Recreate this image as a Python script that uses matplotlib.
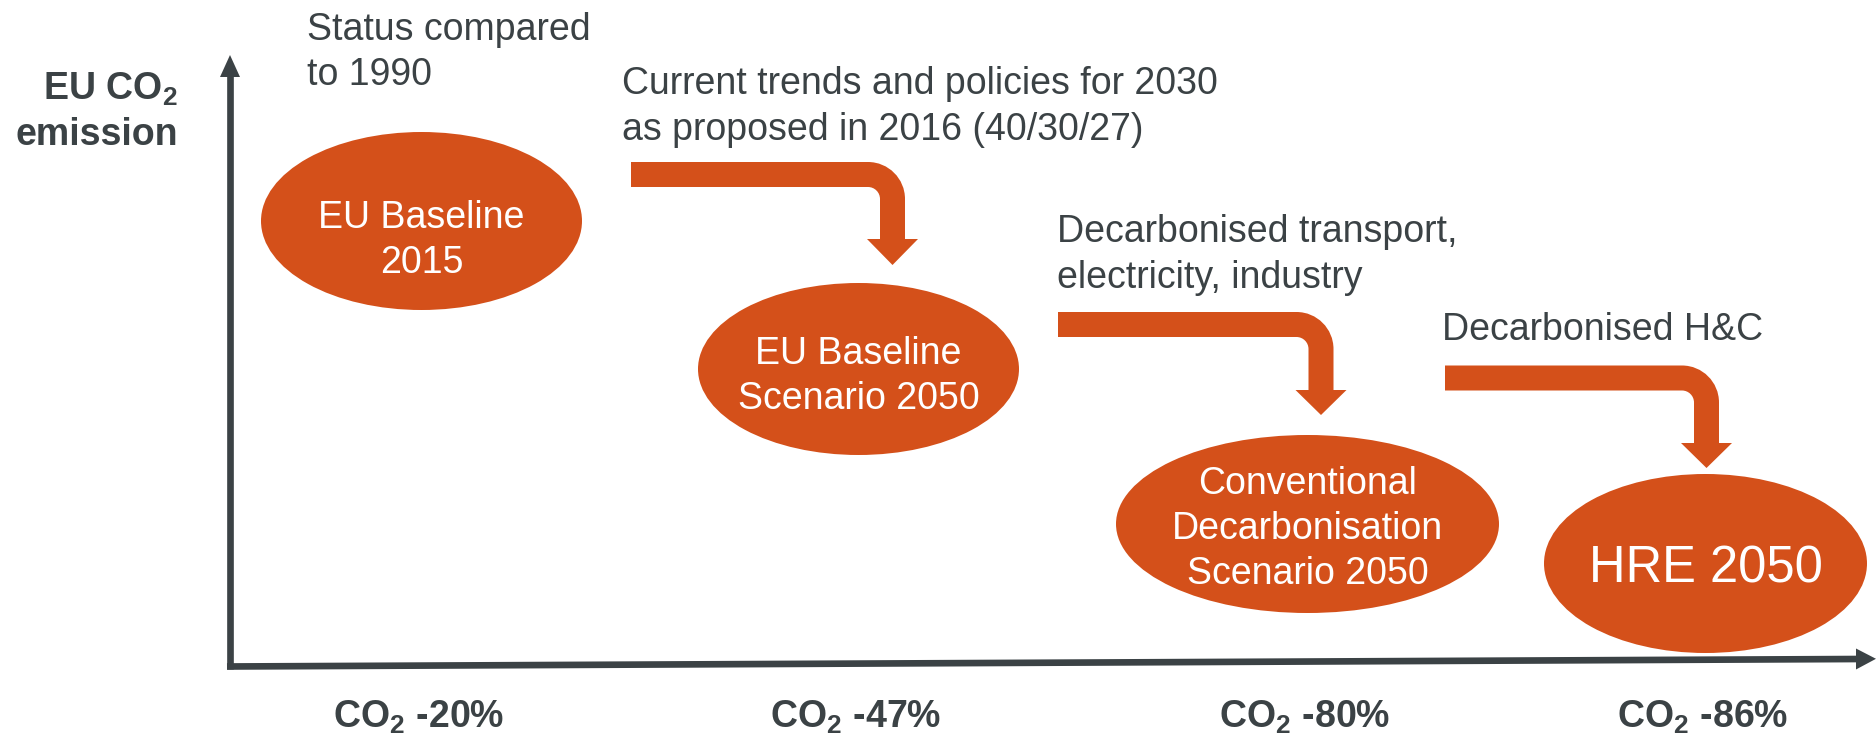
import numpy as np
import matplotlib
matplotlib.use("Agg")
import matplotlib.pyplot as plt
from matplotlib.patches import Ellipse, Polygon, PathPatch
from matplotlib.path import Path

plt.rcParams["font.family"] = ["Liberation Sans", "DejaVu Sans"]
plt.rcParams["mathtext.fontset"] = "custom"
plt.rcParams["mathtext.rm"] = "Liberation Sans"
plt.rcParams["mathtext.bf"] = "Liberation Sans:bold"

# ---- content -------------------------------------------------------------
scenarios = ["EU Baseline\n2015",
             "EU Baseline\nScenario 2050",
             "Conventional\nDecarbonisation\nScenario 2050",
             "HRE 2050"]
co2_change = [-20, -47, -80, -86]          # % CO2 compared to 1990
transitions = ["Current trends and policies for 2030\nas proposed in 2016 (40/30/27)",
               "Decarbonised transport,\nelectricity, industry",
               "Decarbonised H&C"]
status_note = "Status compared\nto 1990"
y_label = ["EU CO$_\\mathbf{2}$", "emission"]

# ---- layout (pixel space) ------------------------------------------------
ORANGE = "#D4501A"
DARK = "#3B4245"
W, H = 1876, 737

ell_cx = [421.5, 858.5, 1307.5, 1705.5]
ell_cy = [221, 369, 524, 563.5]
ell_w = [321, 321, 383, 323]
ell_h = [178, 172, 178, 179]
txt_cy = [237.5, 373.5, 525.5, 564.5]
txt_size = [27, 27, 27, 36.5]

# curved arrows: bar start x, bar centre y, vertical x, head base y, tip y
arr_x0 = [631, 1058, 1445]
arr_yb = [174.5, 324.5, 378]
arr_xv = [892.5, 1321, 1706.5]
arr_yh = [239, 390, 443]
arr_tip = [265, 415, 468]

trans_x = [622, 1057, 1442]
trans_base = [94, 242, 340]

fig = plt.figure(figsize=(W / 100, H / 100), dpi=100)
ax = fig.add_axes([0, 0, 1, 1])
ax.set_xlim(0, W)
ax.set_ylim(H, 0)
ax.axis("off")

# ---- axes arrows ---------------------------------------------------------
lw = 4.8
ax.plot([230, 230], [669, 74], color=DARK, lw=lw, solid_capstyle="butt")
ax.add_patch(Polygon([[220, 77], [240, 77], [230, 55]], closed=True,
                     color=DARK, lw=0))
ax.plot([227, 1860], [666.5, 659], color=DARK, lw=lw, solid_capstyle="butt")
ax.add_patch(Polygon([[1856, 648.5], [1856, 669.5], [1876, 658.8]], closed=True,
                     color=DARK, lw=0))

# ---- transition arrows ---------------------------------------------------
def bent_arrow(x0, yb, xv, yh, tip, t=25.0, ro=37.0, ri=12.0, hw=25.5):
    h = t / 2
    k = 0.5523
    verts = [(x0, yb - h),
             (xv + h - ro, yb - h),
             (xv + h - ro + k * ro, yb - h), (xv + h, yb - h + ro - k * ro), (xv + h, yb - h + ro),
             (xv + h, yh), (xv + hw, yh), (xv, tip), (xv - hw, yh), (xv - h, yh),
             (xv - h, yb + h + ri),
             (xv - h, yb + h + ri - k * ri), (xv - h - ri + k * ri, yb + h), (xv - h - ri, yb + h),
             (x0, yb + h), (x0, yb - h)]
    codes = [Path.MOVETO, Path.LINETO,
             Path.CURVE4, Path.CURVE4, Path.CURVE4,
             Path.LINETO, Path.LINETO, Path.LINETO, Path.LINETO, Path.LINETO,
             Path.LINETO,
             Path.CURVE4, Path.CURVE4, Path.CURVE4,
             Path.LINETO, Path.CLOSEPOLY]
    return PathPatch(Path(verts, codes), facecolor=ORANGE, edgecolor="none")

for i in range(len(transitions)):
    ax.add_patch(bent_arrow(arr_x0[i], arr_yb[i], arr_xv[i], arr_yh[i], arr_tip[i]))

# ---- scenario ellipses ---------------------------------------------------
for i, name in enumerate(scenarios):
    ax.add_patch(Ellipse((ell_cx[i], ell_cy[i]), ell_w[i], ell_h[i],
                         facecolor=ORANGE, edgecolor="none"))
    lines = name.split("\n")
    size_px = txt_size[i] / 0.72
    cap = 0.716 * size_px
    step = 1.2 * size_px
    for j, line in enumerate(lines):
        yb = txt_cy[i] - (len(lines) - 1) * step / 2 + j * step + cap / 2
        ax.text(ell_cx[i], yb, line, ha="center", va="baseline",
                fontsize=txt_size[i], color="white")

# ---- annotations ---------------------------------------------------------
for j, line in enumerate(status_note.split("\n")):
    ax.text(307, 40 + 45 * j, line, ha="left", va="baseline",
            fontsize=27, color=DARK)

for i, label in enumerate(transitions):
    for j, line in enumerate(label.split("\n")):
        ax.text(trans_x[i], trans_base[i] + 46 * j, line, ha="left",
                va="baseline", fontsize=27, color=DARK)

for j, line in enumerate(y_label):
    ax.text(178, 100 + 45 * j, line, ha="right", va="baseline",
            fontsize=27, fontweight="bold", color=DARK)

for i, v in enumerate(co2_change):
    ax.text(ell_cx[i] - 3, 728, "CO$_\\mathbf{2}$ %d%%" % v, ha="center",
            va="baseline", fontsize=27, fontweight="bold", color=DARK)

fig.savefig("out.png", dpi=100)
